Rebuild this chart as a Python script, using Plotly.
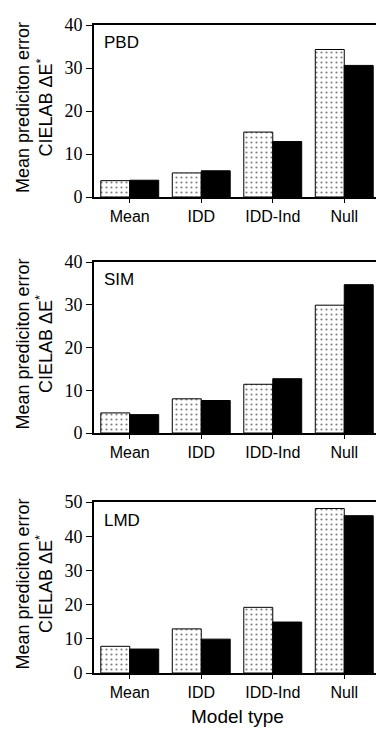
import plotly.graph_objects as go

categories = ["Mean", "IDD", "IDD-Ind", "Null"]
panels = ["PBD", "SIM", "LMD"]
dotted_vals = {
    "PBD": [3.8, 5.6, 15.1, 34.3],
    "SIM": [4.7, 8.0, 11.4, 29.9],
    "LMD": [7.8, 12.9, 19.2, 48.1],
}
black_vals = {
    "PBD": [3.9, 6.1, 12.9, 30.6],
    "SIM": [4.3, 7.6, 12.7, 34.7],
    "LMD": [7.0, 9.9, 14.9, 46.0],
}
y_ranges = {"PBD": [0, 40], "SIM": [0, 40], "LMD": [0, 50]}
y_ticks = {"PBD": [0, 10, 20, 30, 40], "SIM": [0, 10, 20, 30, 40], "LMD": [0, 10, 20, 30, 40, 50]}

OFF = 8  # page body margin
W, H = 384 - OFF, 730 - OFF
# panel pixel bounds on screen (top, bottom)
pix = {"PBD": (25, 197), "SIM": (262, 433), "LMD": (502, 673)}
x0, x1 = 94, 380

def px(x):
    return (x - OFF) / W

def py(y):
    return 1 - (y - OFF) / H

fig = go.Figure()
serif = "Liberation Serif"
sans = "Liberation Sans"

for i, p in enumerate(panels):
    n = "" if i == 0 else str(i + 1)
    xa, ya = "x" + n, "y" + n
    fig.add_trace(go.Bar(
        x=categories, y=dotted_vals[p], xaxis=xa, yaxis=ya,
        marker=dict(color="white", line=dict(color="black", width=1),
                    pattern=dict(shape=".", fgcolor="black", bgcolor="white", size=5, solidity=0.15)),
        showlegend=False))
    fig.add_trace(go.Bar(
        x=categories, y=black_vals[p], xaxis=xa, yaxis=ya,
        marker=dict(color="black", line=dict(color="black", width=1)),
        showlegend=False))
    top, bot = pix[p]
    fig.layout["xaxis" + n] = dict(
        domain=[px(x0), min(1, px(x1))], anchor=ya, showline=True, linecolor="black", linewidth=2,
        mirror=True, ticks="outside", ticklen=4, tickcolor="black", automargin=False,
        tickfont=dict(family=sans, size=16, color="black"), showgrid=False, fixedrange=True)
    fig.layout["yaxis" + n] = dict(
        domain=[py(bot), py(top)], anchor=xa, range=y_ranges[p], tickvals=y_ticks[p],
        showline=True, linecolor="black", linewidth=2, mirror=True, automargin=False,
        ticks="outside", ticklen=6, tickcolor="black", showgrid=False, zeroline=False,
        tickfont=dict(family=serif, size=18, color="black"), fixedrange=True)
    fig.add_annotation(text=p, xref="paper", yref="paper", x=px(102), y=py(top + 18),
                       xanchor="left", yanchor="middle", showarrow=False,
                       font=dict(family=sans, size=17, color="black"))
    fig.add_annotation(text="Mean prediciton error<br>CIELAB ΔE<sup>*</sup>",
                       xref="paper", yref="paper", x=px(34), y=py((top + bot) / 2 - 3),
                       xanchor="center", yanchor="middle", textangle=-90, showarrow=False,
                       font=dict(family=sans, size=18, color="black"))

fig.add_annotation(text="Model type", xref="paper", yref="paper", x=px((x0 + x1) / 2), y=py(716),
                   xanchor="center", yanchor="middle", showarrow=False,
                   font=dict(family=sans, size=19, color="black"))

fig.update_layout(width=W, height=H, margin=dict(l=0, r=0, t=0, b=0),
                  barmode="group", bargap=0.19, bargroupgap=0,
                  plot_bgcolor="white", paper_bgcolor="white")
fig.write_html("out.html")
